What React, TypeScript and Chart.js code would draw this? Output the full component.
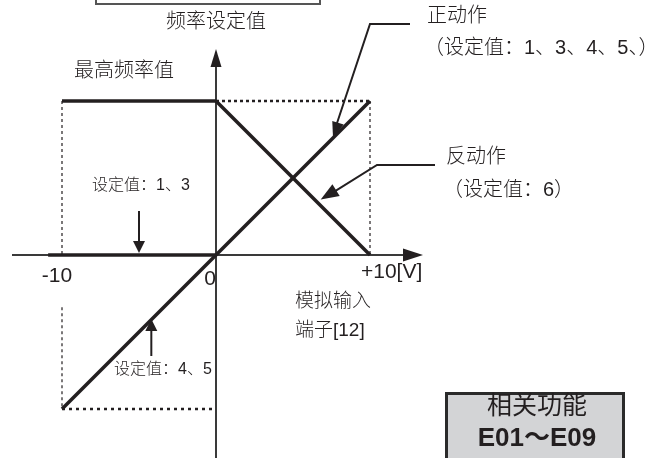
import React, { useEffect, useRef } from "react";
import { Chart, registerables } from "chart.js";

Chart.register(...registerables);

const W = 667;
const H = 458;

// ---- data (input voltage [V] vs. frequency setting [% of max]) ----
const maxFreqX = [-10, 0];
const maxFreqY = [100, 100];
const zeroSetX = [-10.9, 0];
const zeroSetY = [0, 0];
const forwardX = [-10, 0, 10];
const forwardY = [-100, 0, 100];
const reverseX = [0, 10];
const reverseY = [100, 0];
const guideTopX = [0, 10, 10];
const guideTopY = [100, 100, 0];
const guideLeftX = [-10, -10];
const guideLeftY = [100, 0];
const guideBottomX = [-10, -10, 0];
const guideBottomY = [-34, -100, -100];

const tickLabels = ["-10", "0", "+10[V]"];
const yTitle = "频率设定值";
const maxLabel = "最高频率值";
const xTitle = ["模拟输入", "端子[12]"];
const forwardLabel = ["正动作", "（设定值：1、3、4、5、）"];
const reverseLabel = ["反动作", "（设定值：6）"];
const zeroSetLabel = "设定值：1、3";
const negSetLabel = "设定值：4、5";
const boxLines = ["相关功能", "E01～E09"];

// scale ranges so that the drawing fills the canvas
const X_MIN = -216 / 15.4;
const X_MAX = (W - 216) / 15.4;
const Y_MAX = 255 / 1.54;
const Y_MIN = -(H - 255) / 1.54;

const INK = "#231f20";
const FONT_FAM = '"Liberation Sans", "Noto Sans CJK SC", sans-serif';

const pts = (xs: number[], ys: number[]) => xs.map((x, i) => ({ x, y: ys[i] }));

function arrowHead(ctx: CanvasRenderingContext2D, fx: number, fy: number, tx: number, ty: number, len: number, half: number) {
  const a = Math.atan2(ty - fy, tx - fx);
  ctx.beginPath();
  ctx.moveTo(tx, ty);
  ctx.lineTo(tx - len * Math.cos(a) + half * Math.sin(a), ty - len * Math.sin(a) - half * Math.cos(a));
  ctx.lineTo(tx - len * Math.cos(a) - half * Math.sin(a), ty - len * Math.sin(a) + half * Math.cos(a));
  ctx.closePath();
  ctx.fill();
}

const drawPlugin = {
  id: "diagram",
  beforeDatasetsDraw(chart: any) {
    const ctx: CanvasRenderingContext2D = chart.ctx;
    const xs = chart.scales.x;
    const ys = chart.scales.y;
    const x0 = xs.getPixelForValue(0);
    const y0 = ys.getPixelForValue(0);
    ctx.save();
    ctx.strokeStyle = "#3a3a3a";
    ctx.fillStyle = INK;
    ctx.lineWidth = 2;
    // x axis
    ctx.beginPath();
    ctx.moveTo(12, y0);
    ctx.lineTo(406, y0);
    ctx.stroke();
    arrowHead(ctx, 300, y0, 423, y0, 20, 6.5);
    // y axis
    ctx.beginPath();
    ctx.moveTo(x0, H);
    ctx.lineTo(x0, 64);
    ctx.stroke();
    arrowHead(ctx, x0, 300, x0, 49, 18, 5.5);
    // top box (partially visible)
    ctx.strokeStyle = "#555";
    ctx.lineWidth = 2;
    ctx.strokeRect(96, -10, 224, 14);
    ctx.restore();
  },
  afterDatasetsDraw(chart: any) {
    const ctx: CanvasRenderingContext2D = chart.ctx;
    const xs = chart.scales.x;
    const ys = chart.scales.y;
    const px = (v: number) => xs.getPixelForValue(v);
    const py = (v: number) => ys.getPixelForValue(v);
    ctx.save();
    ctx.fillStyle = INK;
    ctx.strokeStyle = INK;
    ctx.lineWidth = 2;

    // callout: forward action
    const fTip = { x: px(7.6), y: py(76) };
    ctx.beginPath();
    ctx.moveTo(410, 24);
    ctx.lineTo(370, 24);
    ctx.lineTo(fTip.x + 3, fTip.y - 12);
    ctx.stroke();
    arrowHead(ctx, 370, 24, fTip.x, fTip.y, 16, 6);

    // callout: reverse action
    const rTip = { x: px(6.8), y: py(36) };
    ctx.beginPath();
    ctx.moveTo(435, 165);
    ctx.lineTo(377, 165);
    ctx.lineTo(rTip.x + 12, rTip.y - 7);
    ctx.stroke();
    arrowHead(ctx, 377, 165, rTip.x, rTip.y, 18, 7);

    // callout: setting 1,3
    const zTip = { x: px(-5), y: py(0) - 2 };
    ctx.beginPath();
    ctx.moveTo(zTip.x, 211);
    ctx.lineTo(zTip.x, zTip.y - 8);
    ctx.stroke();
    arrowHead(ctx, zTip.x, 211, zTip.x, zTip.y, 12, 6);

    // callout: setting 4,5
    const nTip = { x: px(-4.2), y: py(-41.5) };
    ctx.beginPath();
    ctx.moveTo(nTip.x, 356);
    ctx.lineTo(nTip.x, nTip.y + 8);
    ctx.stroke();
    arrowHead(ctx, nTip.x, 356, nTip.x, nTip.y, 12, 6);

    // texts
    ctx.textBaseline = "middle";
    ctx.textAlign = "left";
    ctx.font = `300 20px ${FONT_FAM}`;
    ctx.fillText(yTitle, 166, 22);
    ctx.fillText(maxLabel, 74, 71);
    ctx.fillText(forwardLabel[0], 427, 16);
    ctx.fillText(forwardLabel[1], 424, 48);
    ctx.fillText(reverseLabel[0], 446, 157);
    ctx.fillText(reverseLabel[1], 443, 190);
    ctx.font = `300 19px ${FONT_FAM}`;
    ctx.fillText(xTitle[0], 295, 302);
    ctx.fillText(xTitle[1], 295, 331);
    ctx.font = `300 16px ${FONT_FAM}`;
    ctx.fillText(zeroSetLabel, 92, 186);
    ctx.fillText(negSetLabel, 114, 370);

    // tick labels
    ctx.font = `21px ${FONT_FAM}`;
    ctx.textAlign = "center";
    ctx.fillText(tickLabels[0], 57, 276);
    ctx.textAlign = "right";
    ctx.fillText(tickLabels[1], 216, 279);
    ctx.textAlign = "left";
    ctx.fillText(tickLabels[2], 361, 272);

    // related functions box
    ctx.fillStyle = "#d3d4d6";
    ctx.fillRect(445, 392, 180, 70);
    ctx.strokeStyle = "#2a2a2a";
    ctx.lineWidth = 3;
    ctx.strokeRect(446.5, 393.5, 177, 70);
    ctx.fillStyle = INK;
    ctx.textAlign = "center";
    ctx.font = `25px ${FONT_FAM}`;
    ctx.fillText(boxLines[0], 537, 407);
    ctx.font = `bold 26px ${FONT_FAM}`;
    ctx.fillText(boxLines[1], 537, 439);
    ctx.restore();
  },
};

export default function App() {
  const ref = useRef<HTMLCanvasElement | null>(null);
  useEffect(() => {
    if (!ref.current) return;
    const solid = (data: any, w = 3.5) => ({
      data,
      showLine: true,
      borderColor: INK,
      borderWidth: w,
      pointRadius: 0,
      fill: false,
      borderCapStyle: "butt",
      borderJoinStyle: "miter",
    });
    const dotted = (data: any, w: number, dash: number[]) => ({
      data,
      showLine: true,
      borderColor: INK,
      borderWidth: w,
      borderDash: dash,
      pointRadius: 0,
      fill: false,
    });
    const chart = new Chart(ref.current, {
      type: "scatter",
      data: {
        datasets: [
          dotted(pts(guideTopX.slice(0, 2), guideTopY.slice(0, 2)), 2.5, [3, 3]),
          dotted(pts(guideTopX.slice(1), guideTopY.slice(1)), 1.2, [3, 3]),
          dotted(pts(guideLeftX, guideLeftY), 1.2, [3, 3]),
          dotted(pts(guideBottomX.slice(0, 2), guideBottomY.slice(0, 2)), 1.2, [3, 3]),
          dotted(pts(guideBottomX.slice(1), guideBottomY.slice(1)), 2.5, [3, 4]),
          solid(pts(maxFreqX, maxFreqY)),
          solid(pts(zeroSetX, zeroSetY)),
          solid(pts(forwardX, forwardY)),
          solid(pts(reverseX, reverseY)),
        ] as any,
      },
      options: {
        animation: false,
        responsive: false,
        maintainAspectRatio: false,
        layout: { padding: 0 },
        plugins: { legend: { display: false }, tooltip: { enabled: false } },
        events: [],
        scales: {
          x: { type: "linear", min: X_MIN, max: X_MAX, display: false },
          y: { type: "linear", min: Y_MIN, max: Y_MAX, display: false },
        },
      },
      plugins: [drawPlugin],
    });
    return () => chart.destroy();
  }, []);
  return (
    <div style={{ position: "fixed", left: 0, top: 0, width: W, height: H, background: "#fff" }}>
      <canvas ref={ref} width={W} height={H} style={{ width: W, height: H, display: "block" }} />
    </div>
  );
}
